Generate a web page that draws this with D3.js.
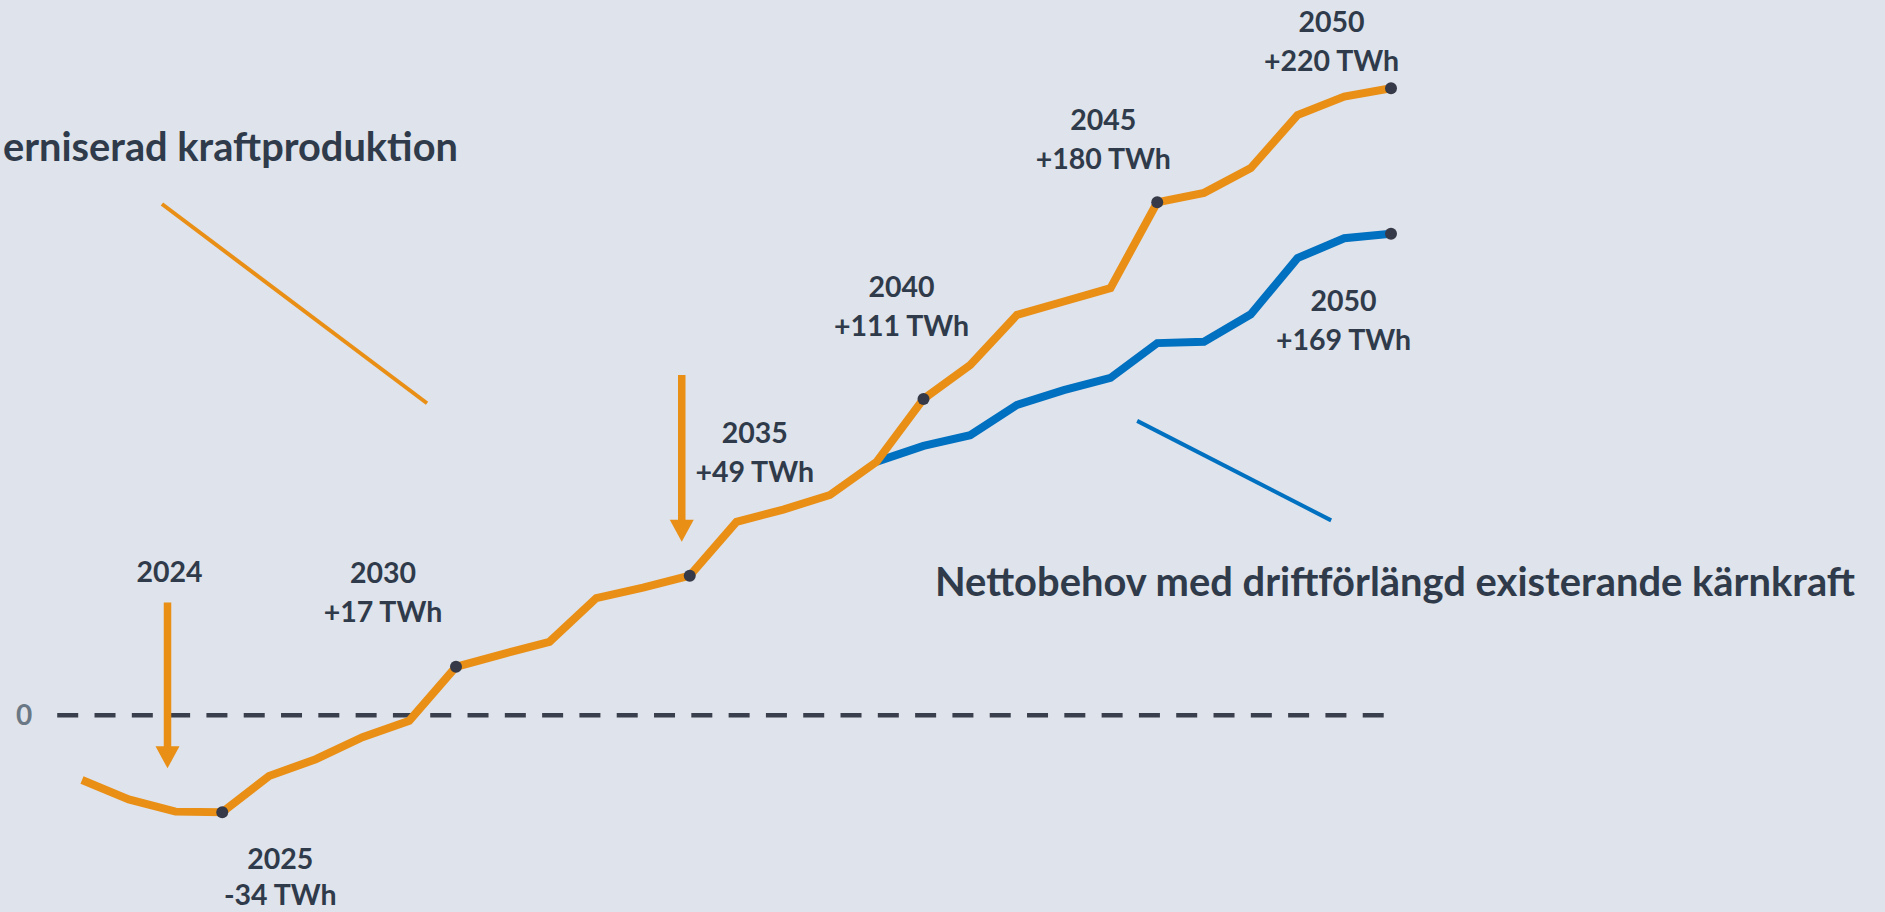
<!DOCTYPE html>
<html>
<head>
<meta charset="utf-8">
<script src="https://cdn.jsdelivr.net/npm/d3@7/dist/d3.min.js"></script>
<style>
  html, body { margin: 0; padding: 0; background: #DFE3EB; overflow: hidden; }
  svg { display: block; }
  text { font-family: Lato, "Open Sans", sans-serif; font-weight: 700; }
</style>
</head>
<body>
<svg id="chart" width="1885" height="912"></svg>
<script>
// net demand (TWh) per year, modernised production
var years = [2022, 2023, 2024, 2025, 2026, 2027, 2028, 2029, 2030, 2031,
             2032, 2033, 2034, 2035, 2036, 2037, 2038, 2039, 2040, 2041,
             2042, 2043, 2044, 2045, 2046, 2047, 2048, 2049, 2050];
var orangeValues = [-22.7, -29.5, -33.8, -34, -21.3, -15.4, -7.7, -1.9, 17, 21.5,
                    25.8, 41.1, 44.8, 49, 67.9, 72.2, 77.3, 89, 111, 122.9,
                    140.5, 145.2, 149.9, 180, 183.3, 192.0, 210.6, 217.1, 220];

// net demand with life-extended existing nuclear (branches off in 2039)
var blueYears = [2039, 2040, 2041, 2042, 2043, 2044, 2045, 2046, 2047, 2048, 2049, 2050];
var blueValues = [89, 94.5, 98.3, 108.9, 114.1, 118.4, 130.6, 131.1, 140.7, 160.4, 167.4, 169];

// milestone call-outs
var milestoneYears = [2025, 2030, 2035, 2040, 2045, 2050];
var milestoneText = ["-34 TWh", "+17 TWh", "+49 TWh", "+111 TWh", "+180 TWh", "+220 TWh"];
var blueMilestoneYears = [2050];
var blueMilestoneText = ["+169 TWh"];

// arrows (year, from TWh, to TWh)
var arrowYears = [2024, 2035];
var arrowFrom = [39.6, 119.4];
var arrowTo = [-18.6, 60.9];
var arrowLabels = ["2024", ""];

var zeroLabel = "0";
var orangeName = "erniserad kraftproduktion";
var blueName = "Nettobehov med driftförlängd existerande kärnkraft";

var svg = d3.select('#chart');

var orangeCol = "#E98F16";
var blueCol = "#0070C0";
var textCol = "#2F3B4A";
var dotCol = "#363A48";

var x = d3.scaleLinear().domain([2022, 2050]).range([82, 1391]);
var y = d3.scaleLinear().domain([0, 220]).range([715.3, 88.3]);

var line = d3.line()
    .x(function(d){ return x(d[0]); })
    .y(function(d){ return y(d[1]); })
    .curve(d3.curveLinear);

var orangeData = years.map(function(yr, i){ return [yr, orangeValues[i]]; });
var blueData = blueYears.map(function(yr, i){ return [yr, blueValues[i]]; });

//zero line
svg.append("line")
    .attr("x1", x(2021.47)).attr("x2", x(2049.87))
    .attr("y1", y(0)).attr("y2", y(0))
    .attr("stroke", "#3A3F4D")
    .attr("stroke-width", 4.5)
    .attr("stroke-dasharray", "21,16.3");

svg.append("text")
    .attr("x", 24).attr("y", y(0) + 10)
    .attr("text-anchor", "middle")
    .attr("font-size", 28)
    .attr("fill", "#6A7886")
    .text(zeroLabel);

// leader lines to the series names (year, TWh)
var leaders = [
    {a: [2023.71, 179.4], b: [2029.38, 109.5], col: orangeCol},
    {a: [2044.57, 103.3], b: [2048.72, 68.4], col: blueCol}
];
svg.selectAll("line.leader")
    .data(leaders)
    .enter()
    .append("line")
    .attr("class", "leader")
    .attr("x1", function(d){ return x(d.a[0]); })
    .attr("y1", function(d){ return y(d.a[1]); })
    .attr("x2", function(d){ return x(d.b[0]); })
    .attr("y2", function(d){ return y(d.b[1]); })
    .attr("stroke", function(d){ return d.col; })
    .attr("stroke-width", 4);

// series lines
svg.append("path")
    .datum(blueData)
    .attr("d", line)
    .attr("fill", "none")
    .attr("stroke", blueCol)
    .attr("stroke-width", 8);

svg.append("path")
    .datum(orangeData)
    .attr("d", line)
    .attr("fill", "none")
    .attr("stroke", orangeCol)
    .attr("stroke-width", 8);

// dots
var dots = milestoneYears.map(function(yr){ return [yr, orangeValues[years.indexOf(yr)]]; })
    .concat(blueMilestoneYears.map(function(yr){ return [yr, blueValues[blueYears.indexOf(yr)]]; }));

svg.selectAll("circle")
    .data(dots)
    .enter()
    .append("circle")
    .attr("cx", function(d){ return x(d[0]); })
    .attr("cy", function(d){ return y(d[1]); })
    .attr("r", 6)
    .attr("fill", dotCol);

// arrows
var arrowDx = -8, headLen = 22, headW = 12;
arrowYears.forEach(function(yr, i){
    var ax = x(yr) + arrowDx;
    var top = y(arrowFrom[i]), tip = y(arrowTo[i]);
    svg.append("line")
        .attr("x1", ax).attr("x2", ax)
        .attr("y1", top).attr("y2", tip - headLen + 1)
        .attr("stroke", orangeCol)
        .attr("stroke-width", 7.5);
    svg.append("path")
        .attr("d", "M" + (ax - headW) + "," + (tip - headLen) + "L" + (ax + headW) + "," + (tip - headLen) + "L" + ax + "," + tip + "Z")
        .attr("fill", orangeCol);
    if (arrowLabels[i]) {
        svg.append("text")
            .attr("x", ax + 2).attr("y", top - 20.6)
            .attr("text-anchor", "middle")
            .attr("font-size", 28.5)
            .attr("fill", textCol)
            .text(arrowLabels[i]);
    }
});

// milestone labels: offsets from the dot, and gap to second line
var labelOffsets = [[58, 57, 36], [-73, -83.5, 39], [65, -132.4, 39], [-22, -102, 39], [-54, -72.3, 39], [-59.5, -56.6, 39]];
var blueLabelOffsets = [[-47.5, 77, 39]];

function addLabel(yr, val, txt, off) {
    var t = svg.append("text")
        .attr("x", x(yr) + off[0])
        .attr("y", y(val) + off[1])
        .attr("text-anchor", "middle")
        .attr("font-size", 28.5)
        .attr("fill", textCol);
    t.append("tspan").attr("x", x(yr) + off[0]).text(String(yr));
    t.append("tspan").attr("x", x(yr) + off[0]).attr("dy", off[2]).text(txt);
}

milestoneYears.forEach(function(yr, i){
    addLabel(yr, orangeValues[years.indexOf(yr)], milestoneText[i], labelOffsets[i]);
});
blueMilestoneYears.forEach(function(yr, i){
    addLabel(yr, blueValues[blueYears.indexOf(yr)], blueMilestoneText[i], blueLabelOffsets[i]);
});

// series names
svg.append("text")
    .attr("x", 3).attr("y", 160.7)
    .attr("font-size", 40)
    .attr("fill", textCol)
    .attr("textLength", 455)
    .attr("lengthAdjust", "spacingAndGlyphs")
    .text(orangeName);

svg.append("text")
    .attr("x", 935).attr("y", 596)
    .attr("font-size", 40)
    .attr("fill", textCol)
    .attr("textLength", 920)
    .attr("lengthAdjust", "spacingAndGlyphs")
    .text(blueName);
</script>
</body>
</html>
